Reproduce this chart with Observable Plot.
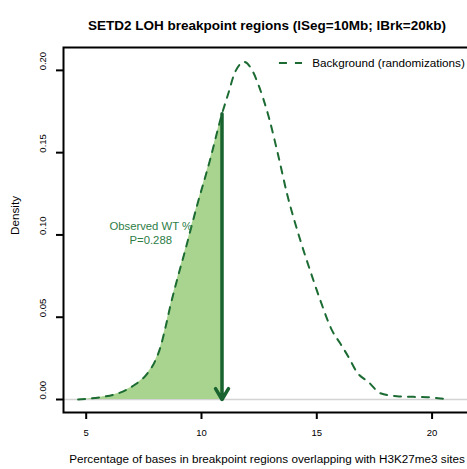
<!DOCTYPE html>
<html><head><meta charset="utf-8">
<script src="https://cdn.jsdelivr.net/npm/d3@7"></script>
<script src="https://cdn.jsdelivr.net/npm/@observablehq/plot@0.6"></script>
<style>body{margin:0;background:#fff;overflow:hidden} svg{display:block;overflow:hidden}</style>
</head><body><div id="chart"></div>
<script>
// Background (randomizations) density curve
const densX = [4.65, 5.62, 6.34, 7.06, 7.64, 8.0, 8.22, 8.44, 8.66, 8.87, 9.3, 9.8, 10.35, 10.89, 11.18, 11.4, 11.69, 11.85, 12.2, 12.48, 12.92, 13.3, 13.71, 14.29, 14.72, 15.16, 15.66, 16.02, 16.38, 16.74, 17.25, 17.76, 18.48, 19.2, 19.78, 20.4, 20.75];
const densY = [0.0, 0.0014, 0.0035, 0.0085, 0.0156, 0.0237, 0.0318, 0.0439, 0.0575, 0.069, 0.091, 0.1175, 0.1445, 0.1736, 0.1867, 0.197, 0.204, 0.2052, 0.200, 0.1908, 0.1715, 0.150, 0.125, 0.0966, 0.078, 0.060, 0.042, 0.034, 0.0257, 0.0166, 0.0105, 0.0038, 0.002, 0.0016, 0.0014, 0.0006, 0.0];
const observedX = 10.89;
const observedDensity = 0.1736;
const observedLabel = "Observed WT %\nP=0.288";
const legendLabel = "Background (randomizations)";
const xTicks = [5, 10, 15, 20];
const yTicks = [0, 0.05, 0.10, 0.15, 0.20];
const yTickLabels = ["0.00", "0.05", "0.10", "0.15", "0.20"];
const title = "SETD2 LOH breakpoint regions (lSeg=10Mb; lBrk=20kb)";
const xLabel = "Percentage of bases in breakpoint regions overlapping with H3K27me3 sites";
const yLabel = "Density";

const curve = densX.map((x, i) => ({x, y: densY[i]}));
const shaded = curve.filter(d => d.x <= observedX);

const font = "'Liberation Sans', Arial, Helvetica, sans-serif";
const lineColor = "#1b6b33";
const arrowColor = "#196330";
const fillColor = "#a9d48f";
const textGreen = "#2d7d47";

// legend layout (data units of the plot frame)
const legendY = 0.2045;
const legendX1 = 13.38, legendX2 = 14.38, legendTextX = 14.8;

const chart = Plot.plot({
  width: 467,
  height: 469,
  marginLeft: 63,
  marginRight: -3,
  marginTop: 47,
  marginBottom: 57,
  style: {fontFamily: font, background: "#fff"},
  x: {domain: [4.016, 21.666]},
  y: {domain: [-0.0079, 0.2139]},
  marks: [
    Plot.ruleY([0], {stroke: "#d3d3d3", strokeWidth: 1.5}),
    Plot.areaY(shaded, {x: "x", y: "y", fill: fillColor, curve: "monotone-x"}),
    Plot.line(curve, {x: "x", y: "y", stroke: lineColor, strokeWidth: 2, strokeDasharray: "7,7", curve: "monotone-x"}),
    Plot.arrow([{x: observedX, y1: observedDensity, y2: 0}], {x: "x", y1: "y1", y2: "y2", stroke: arrowColor, strokeWidth: 3.5, headAngle: 62, headLength: 5.4}),
    Plot.text([observedLabel], {x: 7.8, y: 0.1015, fill: textGreen, fontSize: 11.3, lineHeight: 1.3}),
    Plot.ruleY([legendY], {x1: legendX1, x2: legendX2, stroke: lineColor, strokeWidth: 2, strokeDasharray: "8,8"}),
    Plot.text([legendLabel], {x: legendTextX, y: legendY, textAnchor: "start", fill: "#000", fontSize: 11.7}),
    Plot.axisX({ticks: xTicks, tickSize: 7, tickPadding: 10, fontSize: 9.5, strokeWidth: 2, label: null, color: "#000"}),
    Plot.axisY({ticks: yTicks, tickSize: 7, tickFormat: () => "", strokeWidth: 2, label: null}),
    Plot.text(yTicks, {y: d => d, text: (d, i) => yTickLabels[i], frameAnchor: "left", dx: -21, rotate: -90, fontSize: 9.5, fill: "#000"}),
    Plot.frame({stroke: "#000", strokeWidth: 2}),
    Plot.text([title], {frameAnchor: "top", dy: -27, fontWeight: "bold", fontSize: 13.5, fill: "#000"}),
    Plot.text([xLabel], {frameAnchor: "bottom", dy: 50, fontSize: 11.7, fill: "#000"}),
    Plot.text([yLabel], {frameAnchor: "left", dx: -48, dy: 5, rotate: -90, fontSize: 11.7, fill: "#000"})
  ]
});
document.getElementById("chart").appendChild(chart);
</script>
</body></html>
